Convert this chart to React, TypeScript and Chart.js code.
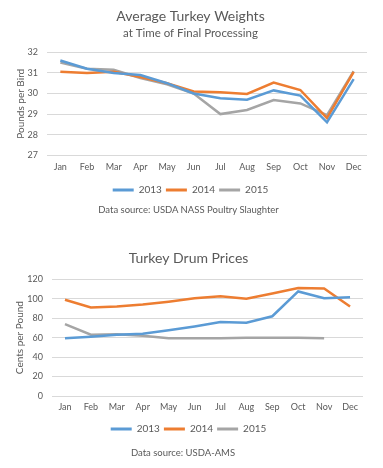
import React, { useEffect, useRef } from "react";
import { Chart, registerables } from "chart.js";

Chart.register(...registerables);

const months = ["Jan", "Feb", "Mar", "Apr", "May", "Jun", "Jul", "Aug", "Sep", "Oct", "Nov", "Dec"];
const seriesNames = ["2013", "2014", "2015"];

const weights2013 = [31.6, 31.2, 31.0, 30.9, 30.5, 30.0, 29.77, 29.7, 30.15, 29.9, 28.6, 30.7];
const weights2014 = [31.05, 31.0, 31.05, 30.8, 30.5, 30.1, 30.06, 29.98, 30.53, 30.17, 28.8, 31.05];
const weights2015 = [31.5, 31.2, 31.15, 30.75, 30.45, 30.0, 29.0, 29.2, 29.68, 29.52, 28.95, 31.08];

const drum2013 = [59.5, 61, 63, 64, 67.5, 71.5, 76, 75.3, 82, 107.5, 100.5, 101.5];
const drum2014 = [99, 91, 92, 94, 97, 100.5, 102.5, 100, 105.5, 111, 110.5, 92];
const drum2015 = [74, 63, 63.5, 62, 59.5, 59.5, 59.5, 60, 60, 60, 59.5, null];

const COLORS = ["#5B9BD5", "#ED7D31", "#A5A5A5"];
const FONT = "Lato, 'Liberation Sans', sans-serif";
const TEXT = "#595959";
const GRID = "#D9D9D9";

type Props = {
  top: number;
  height: number;
  title: string;
  subtitle?: string;
  titlePad: { top: number; bottom: number };
  subtitlePad?: { top: number; bottom: number };
  yTitle: string;
  yTitlePad: number;
  yMin: number;
  yMax: number;
  yStep: number;
  leftPad: number;
  yWidth: number;
  xHeight: number;
  rightPad: number;
  data: (number | null)[][];
};

function LineChartBox(p: Props) {
  const ref = useRef<HTMLCanvasElement | null>(null);
  useEffect(() => {
    if (!ref.current) return;
    const chart = new Chart(ref.current, {
      type: "line",
      data: {
        labels: months,
        datasets: p.data.map((d, i) => ({
          label: seriesNames[i],
          data: d,
          borderColor: COLORS[i],
          backgroundColor: COLORS[i],
          borderWidth: 2.5,
          pointRadius: 0,
          tension: 0,
          spanGaps: false,
        })),
      },
      options: {
        animation: false,
        responsive: false,
        maintainAspectRatio: false,
        layout: { padding: { left: p.leftPad, right: p.rightPad, top: 0, bottom: 0 } },
        plugins: {
          title: {
            display: true,
            text: p.title,
            color: TEXT,
            font: { family: FONT, size: 14, weight: "normal" },
            padding: p.titlePad,
          },
          subtitle: {
            display: !!p.subtitle,
            text: p.subtitle || "",
            color: TEXT,
            font: { family: FONT, size: 11.5, weight: "normal" },
            padding: p.subtitlePad || { top: 0, bottom: 0 },
          },
          legend: {
            position: "bottom",
            labels: {
              color: TEXT,
              font: { family: FONT, size: 10 },
              boxWidth: 21,
              boxHeight: 3,
              padding: 4,
              generateLabels: (c: any) =>
                c.data.datasets.map((ds: any, i: number) => ({
                  text: ds.label,
                  fillStyle: COLORS[i],
                  strokeStyle: COLORS[i],
                  lineWidth: 0,
                  fontColor: TEXT,
                  hidden: false,
                  datasetIndex: i,
                })),
            },
          },
          tooltip: { enabled: false },
        },
        scales: {
          x: {
            offset: true,
            grid: { display: false, drawTicks: false },
            border: { display: false },
            ticks: { color: TEXT, font: { family: FONT, size: 9 }, padding: 6, maxRotation: 0 },
            afterFit: (axis: any) => {
              axis.height = p.xHeight;
            },
          },
          y: {
            min: p.yMin,
            max: p.yMax,
            grid: { color: GRID, drawTicks: false, lineWidth: 1 },
            border: { display: false },
            ticks: { stepSize: p.yStep, color: TEXT, font: { family: FONT, size: 9 }, padding: 9 },
            title: {
              display: true,
              text: p.yTitle,
              color: TEXT,
              font: { family: FONT, size: 10, weight: "normal" },
              padding: { top: p.yTitlePad, bottom: 0 },
            },
            afterFit: (axis: any) => {
              axis.width = p.yWidth;
            },
          },
        },
      },
    } as any);
    return () => chart.destroy();
  }, []);
  return (
    <canvas
      ref={ref}
      width={383}
      height={p.height}
      style={{ position: "absolute", left: 0, top: p.top, width: 383, height: p.height }}
    />
  );
}

const noteStyle: React.CSSProperties = {
  position: "absolute",
  textAlign: "center",
  fontFamily: FONT,
  fontSize: 9.5,
  lineHeight: "12px",
  color: TEXT,
};

export default function App() {
  return (
    <div style={{ position: "fixed", left: 0, top: 0, width: 383, height: 468, background: "#fff", overflow: "hidden" }}>
      <LineChartBox
        top={0}
        height={205}
        title="Average Turkey Weights"
        subtitle="at Time of Final Processing"
        titlePad={{ top: 8, bottom: 2 }}
        subtitlePad={{ top: 0, bottom: 11.7 }}
        yTitle="Pounds per Bird"
        yTitlePad={1}
        yMin={27}
        yMax={32}
        yStep={1}
        leftPad={14}
        yWidth={33}
        xHeight={25.7}
        rightPad={16}
        data={[weights2013, weights2014, weights2015]}
      />
      <div style={{ ...noteStyle, left: 0, width: 377, top: 204 }}>Data source: USDA NASS Poultry Slaughter</div>
      <LineChartBox
        top={236}
        height={208}
        title="Turkey Drum Prices"
        titlePad={{ top: 13.6, bottom: 12.9 }}
        yTitle="Cents per Pound"
        yTitlePad={0}
        yMin={0}
        yMax={120}
        yStep={20}
        leftPad={14}
        yWidth={38}
        xHeight={24}
        rightPad={20}
        data={[drum2013, drum2014, drum2015]}
      />
      <div style={{ ...noteStyle, left: 0, width: 366, top: 447 }}>Data source: USDA-AMS</div>
    </div>
  );
}
